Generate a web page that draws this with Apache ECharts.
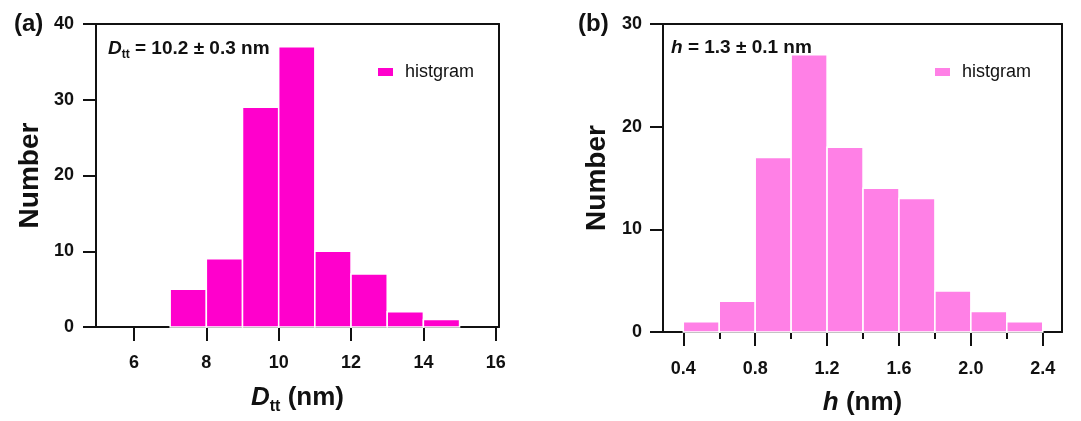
<!DOCTYPE html>
<html>
<head>
<meta charset="utf-8">
<script src="https://cdn.jsdelivr.net/npm/echarts@6/dist/echarts.min.js"></script>
<style>
  html, body { margin: 0; padding: 0; background: #ffffff; }
  #chart { width: 1081px; height: 421px; }
</style>
</head>
<body>
<div id="chart"></div>
<script>
// (a) tip-to-tip length histogram: bin edges (nm) and counts
const edgesA = [7, 8, 9, 10, 11, 12, 13, 14, 15];
const countsA = [5, 9, 29, 37, 10, 7, 2, 1];
const xTicksA = [6, 8, 10, 12, 14, 16];

// (b) height histogram: bin edges (nm) and counts
const edgesB = [0.4, 0.6, 0.8, 1.0, 1.2, 1.4, 1.6, 1.8, 2.0, 2.2, 2.4];
const countsB = [1, 3, 17, 27, 18, 14, 13, 4, 2, 1];
const xTicksB = [0.4, 0.8, 1.2, 1.6, 2.0, 2.4];
const xMinorTicksB = [0.6, 1.0, 1.4, 1.8, 2.2];

const seriesName = 'histgram';
const colorA = '#ff00cc';
const colorB = '#ff80e6';
const ink = '#111111';
const FONT = '"Liberation Sans", Arial, sans-serif';

function toBins(edges, counts) {
  return counts.map((n, i) => [edges[i], edges[i + 1], n]);
}

// one rectangle per bin, spanning [lo, hi] on x and [0, count] on y
function renderBin(params, api) {
  const topLeft = api.coord([api.value(0), api.value(2)]);
  const bottomRight = api.coord([api.value(1), 0]);
  return {
    type: 'rect',
    shape: {
      x: topLeft[0],
      y: topLeft[1],
      width: bottomRight[0] - topLeft[0],
      height: bottomRight[1] - topLeft[1]
    },
    style: { fill: api.visual('color'), stroke: '#ffffff', lineWidth: 1.5 }
  };
}

const lineStyle = { color: ink, width: 2 };
const tickLabel = { color: ink, fontFamily: FONT, fontWeight: 'bold', fontSize: 18 };

function frameX(gridIndex, min, max) {
  return {
    type: 'value', gridIndex, position: 'top', min, max,
    axisLine: { show: true, onZero: false, lineStyle },
    axisTick: { show: false }, axisLabel: { show: false }, splitLine: { show: false }
  };
}
function frameY(gridIndex, max) {
  return {
    type: 'value', gridIndex, position: 'right', min: 0, max,
    axisLine: { show: true, onZero: false, lineStyle },
    axisTick: { show: false }, axisLabel: { show: false }, splitLine: { show: false }
  };
}

const nameRich = {
  i: { fontFamily: FONT, fontWeight: 'bold', fontStyle: 'italic', fontSize: 26, lineHeight: 34, color: ink },
  s: { fontFamily: FONT, fontWeight: 'bold', fontSize: 16, lineHeight: 14, verticalAlign: 'bottom', color: ink },
  n: { fontFamily: FONT, fontWeight: 'bold', fontSize: 26, lineHeight: 34, color: ink }
};
const noteRich = {
  i: { fontFamily: FONT, fontWeight: 'bold', fontStyle: 'italic', fontSize: 19, lineHeight: 24, color: ink },
  s: { fontFamily: FONT, fontWeight: 'bold', fontSize: 12, lineHeight: 12, verticalAlign: 'bottom', color: ink },
  n: { fontFamily: FONT, fontWeight: 'bold', fontSize: 19, lineHeight: 24, color: ink }
};
const yName = {
  name: 'Number', nameLocation: 'middle', nameGap: 52,
  nameTextStyle: { fontFamily: FONT, fontWeight: 'bold', fontSize: 28, color: ink }
};
const legendText = { fontFamily: FONT, fontSize: 18, color: ink, padding: [0, 0, 0, 7] };

const option = {
  animation: false,
  backgroundColor: '#ffffff',
  title: [
    { text: '(a)', left: 9, top: 7, textStyle: { fontFamily: FONT, fontWeight: 'bold', fontSize: 24, color: ink } },
    { text: '(b)', left: 573, top: 7, textStyle: { fontFamily: FONT, fontWeight: 'bold', fontSize: 24, color: ink } },
    { text: '{i|D}{s|tt}{n| = 10.2 ± 0.3 nm}', left: 103, top: 32, textStyle: { rich: noteRich } },
    { text: '{i|h}{n| = 1.3 ± 0.1 nm}', left: 666, top: 31, textStyle: { rich: noteRich } }
  ],
  legend: [
    {
      left: 378, top: 63, padding: 0, icon: 'rect', itemWidth: 15, itemHeight: 8,
      data: [{ name: seriesName, itemStyle: { color: colorA } }],
      textStyle: legendText
    },
    {
      left: 935, top: 63, padding: 0, icon: 'rect', itemWidth: 15, itemHeight: 8,
      data: [{ name: seriesName, itemStyle: { color: colorB } }],
      textStyle: legendText
    }
  ],
  grid: [
    { left: 96, right: 582, top: 24, bottom: 94 },
    { left: 663, right: 19, top: 24, bottom: 88 }
  ],
  xAxis: [
    {
      type: 'value', gridIndex: 0, position: 'bottom', min: 4.95, max: 16.09,
      name: '{i|D}{s|tt}{n| (nm)}', nameLocation: 'middle', nameGap: 54,
      nameTextStyle: { rich: nameRich },
      axisLine: { show: true, onZero: false, lineStyle },
      axisTick: { show: true, length: 14, lineStyle, customValues: xTicksA },
      axisLabel: Object.assign({ margin: 27, customValues: xTicksA }, tickLabel),
      splitLine: { show: false }
    },
    frameX(0, 4.95, 16.09),
    {
      type: 'value', gridIndex: 1, position: 'bottom', min: 0.287, max: 2.507,
      name: '{i|h}{n| (nm)}', nameLocation: 'middle', nameGap: 54,
      nameTextStyle: { rich: nameRich },
      axisLine: { show: true, onZero: false, lineStyle },
      axisTick: { show: true, length: 14, lineStyle, customValues: xTicksB },
      axisLabel: Object.assign({ margin: 28, customValues: xTicksB, formatter: v => v.toFixed(1) }, tickLabel),
      splitLine: { show: false }
    },
    {
      type: 'value', gridIndex: 1, position: 'bottom', min: 0.287, max: 2.507,
      axisLine: { show: false },
      axisTick: { show: true, length: 7, lineStyle, customValues: xMinorTicksB },
      axisLabel: { show: false },
      splitLine: { show: false }
    },
    frameX(1, 0.287, 2.507)
  ],
  yAxis: [
    Object.assign({
      type: 'value', gridIndex: 0, position: 'left', min: 0, max: 40, interval: 10,
      axisLine: { show: true, onZero: false, lineStyle },
      axisTick: { show: true, length: 13, lineStyle },
      axisLabel: Object.assign({ margin: 22 }, tickLabel),
      splitLine: { show: false }
    }, yName),
    frameY(0, 40),
    Object.assign({
      type: 'value', gridIndex: 1, position: 'left', min: 0, max: 30, interval: 10,
      axisLine: { show: true, onZero: false, lineStyle },
      axisTick: { show: true, length: 13, lineStyle },
      axisLabel: Object.assign({ margin: 21 }, tickLabel),
      splitLine: { show: false }
    }, yName),
    frameY(1, 30)
  ],
  series: [
    {
      name: seriesName, type: 'custom', xAxisIndex: 0, yAxisIndex: 0,
      itemStyle: { color: colorA },
      encode: { x: [0, 1], y: 2 },
      renderItem: renderBin,
      data: toBins(edgesA, countsA)
    },
    {
      name: seriesName, type: 'custom', xAxisIndex: 2, yAxisIndex: 2,
      itemStyle: { color: colorB },
      encode: { x: [0, 1], y: 2 },
      renderItem: renderBin,
      data: toBins(edgesB, countsB)
    }
  ]
};

const chart = echarts.init(document.getElementById('chart'), null, { renderer: 'canvas' });
chart.setOption(option);
</script>
</body>
</html>
